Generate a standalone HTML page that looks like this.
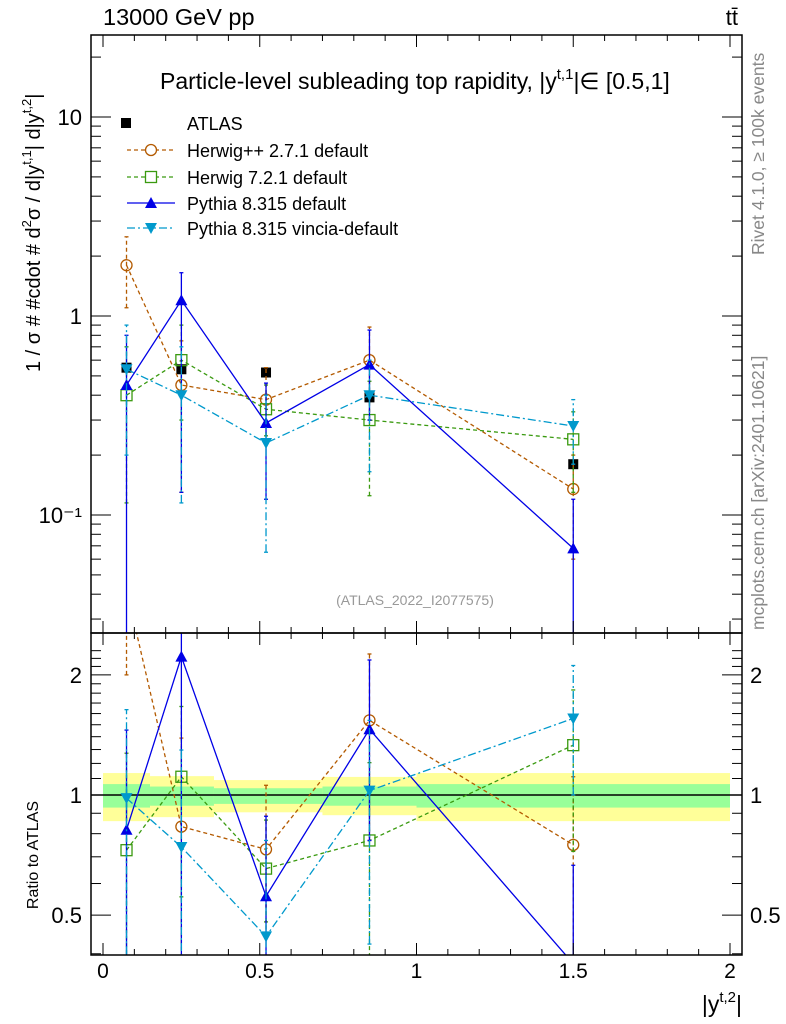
<!DOCTYPE html>
<html><head><meta charset="utf-8">
<style>
html,body{margin:0;background:#fff;overflow:hidden;width:786px;height:1024px;}
svg{display:block;font-family:"Liberation Sans",sans-serif;}
</style></head>
<body>
<svg id="c" width="786" height="1024" xmlns="http://www.w3.org/2000/svg">
<g id="g"></g>
<g font-family="Liberation Sans, sans-serif">
<text x="103" y="25" font-size="23.5">13000 GeV pp</text>
<text x="738" y="25" font-size="22" text-anchor="end">tt̄</text>
<text x="160" y="89" font-size="23">Particle-level subleading top rapidity, |y<tspan dy="-10" font-size="15">t,1</tspan><tspan dy="10">|∈ [0.5,1]</tspan></text>
<g font-size="18">
<rect x="121" y="118" width="10" height="10" fill="#000"/>
<text x="187" y="130">ATLAS</text>
<line x1="127" x2="175" y1="150" y2="150" stroke="#b35a00" stroke-dasharray="4,3" stroke-width="1.3"/>
<circle cx="151" cy="150" r="5.5" fill="#fff" stroke="#b35a00" stroke-width="1.3"/>
<text x="187" y="157">Herwig++ 2.7.1 default</text>
<line x1="127" x2="175" y1="177" y2="177" stroke="#3a9a10" stroke-dasharray="4,3" stroke-width="1.3"/>
<rect x="145.5" y="171.5" width="11" height="11" fill="#fff" stroke="#3a9a10" stroke-width="1.3"/>
<text x="187" y="184">Herwig 7.2.1 default</text>
<line x1="127" x2="175" y1="203" y2="203" stroke="#0000e6" stroke-width="1.3"/>
<path d="M151,197L157,208L145,208Z" fill="#0000e6"/>
<text x="187" y="210">Pythia 8.315 default</text>
<line x1="127" x2="175" y1="228" y2="228" stroke="#0099cc" stroke-dasharray="8,3,2,3" stroke-width="1.3"/>
<path d="M151,234L157,223L145,223Z" fill="#0099cc"/>
<text x="187" y="235">Pythia 8.315 vincia-default</text>
</g>
<text x="415" y="605" font-size="14" fill="#999" text-anchor="middle">(ATLAS_2022_I2077575)</text>
<text transform="translate(764,255) rotate(-90)" font-size="17.5" fill="#888">Rivet 4.1.0, ≥ 100k events</text>
<text transform="translate(764,630) rotate(-90)" font-size="17.5" fill="#888">mcplots.cern.ch [arXiv:2401.10621]</text>
<text transform="translate(40,372) rotate(-90)" font-size="20">1 / σ # #cdot # d<tspan dy="-9" font-size="13">2</tspan><tspan dy="9">σ / d|y</tspan><tspan dy="-9" font-size="13">t,1</tspan><tspan dy="9">| d|y</tspan><tspan dy="-9" font-size="13">t,2</tspan><tspan dy="9">|</tspan></text>
<text transform="translate(38,855) rotate(-90)" font-size="16" text-anchor="middle">Ratio to ATLAS</text>
</g>
</svg>
<script>
const xCenters=[0.075,0.25,0.52,0.85,1.5];
const binEdges=[0,0.15,0.354,0.7,1.0,2.0];
const atlasVals=[0.55,0.54,0.52,0.39,0.18];
const atlasErr=[0.03,0.03,0.03,0.025,0.012];
const hppVals=[1.8,0.45,0.38,0.6,0.135];
const hppLo=[1.1,0.13,0.23,0.3,0.06];
const hppHi=[2.5,0.75,0.55,0.88,0.2];
const h7Vals=[0.4,0.6,0.34,0.3,0.24];
const h7Lo=[0.115,0.3,0.25,0.125,0.13];
const h7Hi=[0.7,0.9,0.45,0.47,0.33];
const pyVals=[0.45,1.2,0.29,0.57,0.068];
const pyLo=[0.01,0.13,0.12,0.3,0.01];
const pyHi=[0.8,1.65,0.46,0.85,0.12];
const vinVals=[0.54,0.4,0.23,0.4,0.28];
const vinLo=[0.2,0.115,0.065,0.165,0.18];
const vinHi=[0.9,0.7,0.4,0.6,0.38];
const bandYellowHi=[1.135,1.115,1.09,1.11,1.135];
const bandYellowLo=[0.86,0.88,0.905,0.89,0.86];
const bandGreenHi=[1.065,1.05,1.04,1.05,1.065];
const bandGreenLo=[0.93,0.94,0.95,0.94,0.93];
const mainYTicks=[0.1,1,10];
const mainYLabels=["10⁻¹","1","10"];
const ratioTicks=[0.5,1,2];
const ratioLabels=["0.5","1","2"];
const xTicks=[0,0.5,1,1.5,2];
const xTickLabels=["0","0.5","1","1.5","2"];

const NS="http://www.w3.org/2000/svg";
const G=document.getElementById('g');
const L=91,R=742,T=35,MB=633,RB=955;
const X=v=>103+313.5*v;
const Y=v=>316-199*Math.log10(v);
const YR=v=>795-399*Math.log10(v);
function mk(tag,a,parent){const e=document.createElementNS(NS,tag);for(const k in a)e.setAttribute(k,a[k]);(parent||G).appendChild(e);return e;}
function txt(s,a,parent){const e=mk('text',a,parent);e.textContent=s;return e;}

const defs=mk('defs',{});
const c1=mk('clipPath',{id:'cm'},defs);mk('rect',{x:L,y:T,width:R-L,height:MB-T},c1);
const c2=mk('clipPath',{id:'cr'},defs);mk('rect',{x:L,y:MB,width:R-L,height:RB-MB},c2);

const band=mk('g',{'clip-path':'url(#cr)'});


for(let i=0;i<5;i++){
  const x0=X(binEdges[i]),x1=X(binEdges[i+1]);
  const y=mk('rect',{x:x0,y:YR(bandYellowHi[i]),width:x1-x0,height:YR(bandYellowLo[i])-YR(bandYellowHi[i]),fill:'#ffff99'},band);
  
  
  const g=mk('rect',{x:x0,y:YR(bandGreenHi[i]),width:x1-x0,height:YR(bandGreenLo[i])-YR(bandGreenHi[i]),fill:'#99ff99'},band);
  
  
}
mk('line',{x1:L,x2:R,y1:YR(1),y2:YR(1),stroke:'#000','stroke-width':1.5});

const series=[
 {name:'herwigpp',v:hppVals,lo:hppLo,hi:hppHi,c:'#b35a00',dash:'4,3',m:'circle'},
 {name:'herwig7',v:h7Vals,lo:h7Lo,hi:h7Hi,c:'#3a9a10',dash:'4,3',m:'square'},
 {name:'pythia',v:pyVals,lo:pyLo,hi:pyHi,c:'#0000e6',dash:'',m:'tri'},
 {name:'vincia',v:vinVals,lo:vinLo,hi:vinHi,c:'#0099cc',dash:'8,3,2,3',m:'tridown'}
];
function marker(m,x,y,c,parent){
  if(m==='circle')return mk('circle',{cx:x,cy:y,r:5.5,fill:'none',stroke:c,'stroke-width':1.3},parent);
  if(m==='square')return mk('rect',{x:x-5.5,y:y-5.5,width:11,height:11,fill:'none',stroke:c,'stroke-width':1.3},parent);
  if(m==='tri')return mk('path',{d:`M${x},${y-6}L${x+6},${y+5}L${x-6},${y+5}Z`,fill:c},parent);
  if(m==='tridown')return mk('path',{d:`M${x},${y+6}L${x+6},${y-5}L${x-6},${y-5}Z`,fill:c},parent);
  if(m==='sq')return mk('rect',{x:x-5,y:y-5,width:10,height:10,fill:c},parent);
}
function drawSeries(s,panel){
  const isR=panel==='ratio';
  const Yf=isR?YR:Y;
  const grp=mk('g',{'clip-path':isR?'url(#cr)':'url(#cm)'});
  
  
  const val=i=>isR?s.v[i]/atlasVals[i]:s.v[i];
  const lo=i=>isR?s.lo[i]/atlasVals[i]:s.lo[i];
  const hi=i=>isR?s.hi[i]/atlasVals[i]:s.hi[i];
  for(let i=0;i<5;i++){
    const x=X(xCenters[i]);
    const e=mk('line',{x1:x,x2:x,y1:Yf(lo(i)),y2:Yf(hi(i)),stroke:s.c,'stroke-width':1.3,'stroke-dasharray':s.dash},grp);
    
    
    mk('line',{x1:x-2,x2:x+2,y1:Yf(hi(i)),y2:Yf(hi(i)),stroke:s.c,'stroke-width':1.3},grp);
    mk('line',{x1:x-2,x2:x+2,y1:Yf(lo(i)),y2:Yf(lo(i)),stroke:s.c,'stroke-width':1.3},grp);
  }
  const pts=xCenters.map((xv,i)=>X(xv)+','+Yf(val(i))).join(' ');
  const pl=mk('polyline',{points:pts,fill:'none',stroke:s.c,'stroke-width':1.3,'stroke-dasharray':s.dash},grp);
  
  
  for(let i=0;i<5;i++){
    const mm=marker(s.m,X(xCenters[i]),Yf(val(i)),s.c,grp);
    
    
  }
}
const ag=mk('g',{'clip-path':'url(#cm)'});


for(let i=0;i<5;i++){
  const x=X(xCenters[i]);
  mk('line',{x1:x,x2:x,y1:Y(atlasVals[i]-atlasErr[i]),y2:Y(atlasVals[i]+atlasErr[i]),stroke:'#000','stroke-width':1.3},ag);
  const p=marker('sq',x,Y(atlasVals[i]),'#000',ag);
  
  
}
series.forEach(s=>{drawSeries(s,'main');drawSeries(s,'ratio');});

mk('rect',{x:L,y:T,width:R-L,height:MB-T,fill:'none',stroke:'#000','stroke-width':1.5});
mk('rect',{x:L,y:MB,width:R-L,height:RB-MB,fill:'none',stroke:'#000','stroke-width':1.5});

for(let v=0;v<=2.0001;v+=0.1){
  const x=X(v);const major=Math.abs(v*2-Math.round(v*2))<1e-6;const len=major?12:6;
  mk('line',{x1:x,x2:x,y1:T,y2:T+len,stroke:'#000'});
  mk('line',{x1:x,x2:x,y1:MB,y2:MB-len,stroke:'#000'});
  mk('line',{x1:x,x2:x,y1:MB,y2:MB+len,stroke:'#000'});
  mk('line',{x1:x,x2:x,y1:RB,y2:RB-len,stroke:'#000'});
}
xTicks.forEach((v,i)=>{const t=txt(xTickLabels[i],{x:X(v),y:978,'font-size':21,'text-anchor':'middle'});
});
const xt=mk('text',{x:742,y:1012,'font-size':23,'text-anchor':'end'});


const ts=mk('tspan',{},xt);ts.textContent='|y';
const ts2=mk('tspan',{dy:-10,'font-size':15},xt);ts2.textContent='t,2';
const ts3=mk('tspan',{dy:10},xt);ts3.textContent='|';

for(let d=-2;d<=1;d++){for(let k=1;k<10;k++){
  const v=k*Math.pow(10,d);const y=Y(v);if(y<T||y>MB)continue;
  const len=k===1?20:10;
  mk('line',{x1:L,x2:L+len,y1:y,y2:y,stroke:'#000'});
  mk('line',{x1:R,x2:R-len,y1:y,y2:y,stroke:'#000'});
}}
mainYTicks.forEach((v,i)=>{const t=txt(mainYLabels[i],{x:82,y:Y(v)+8,'font-size':22,'text-anchor':'end'});
});
for(let v=0.4;v<=2.4;v+=0.1){const y=YR(v);if(y<MB||y>RB)continue;
  const major=[0.5,1,2].some(m=>Math.abs(m-v)<1e-6);const len=major?20:10;
  mk('line',{x1:L,x2:L+len,y1:y,y2:y,stroke:'#000'});
  mk('line',{x1:R,x2:R-len,y1:y,y2:y,stroke:'#000'});
}
ratioTicks.forEach((v,i)=>{
  const t=txt(ratioLabels[i],{x:82,y:YR(v)+8,'font-size':22,'text-anchor':'end'});
  
  const t2=txt(ratioLabels[i],{x:750,y:YR(v)+8,'font-size':22});
  
});
</script>
</body></html>
